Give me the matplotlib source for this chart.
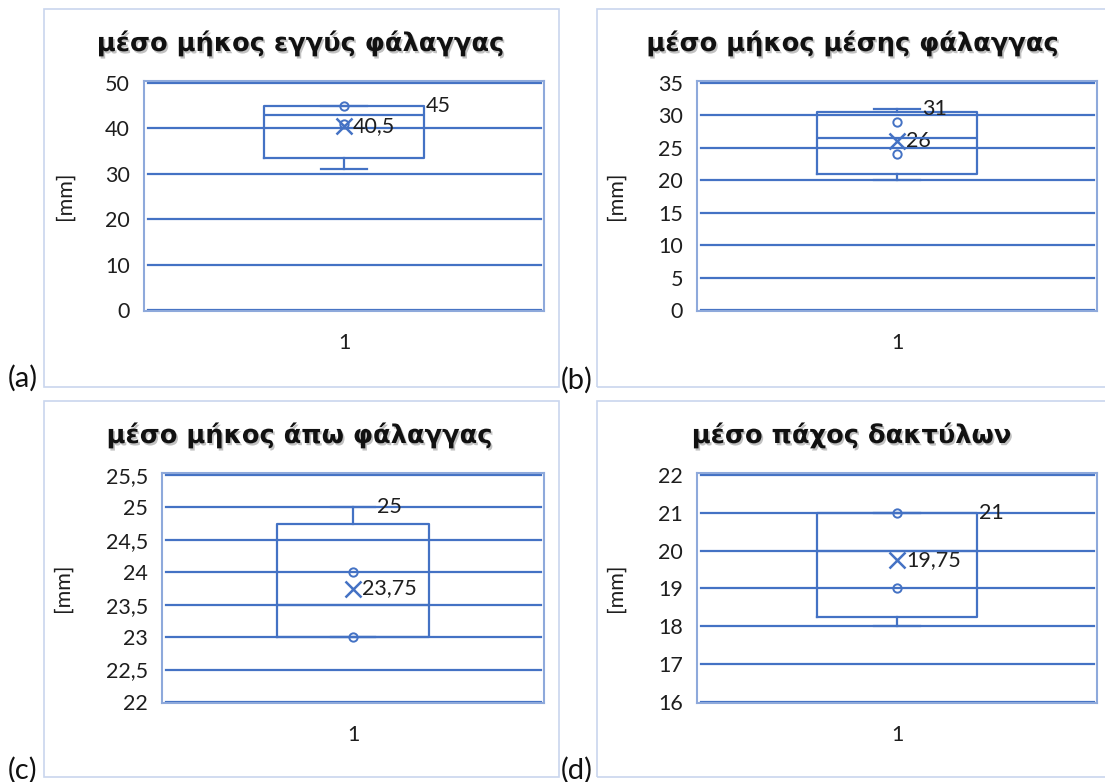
import numpy as np
import matplotlib
matplotlib.use('Agg')
import matplotlib.pyplot as plt
import matplotlib.patheffects as pe
from matplotlib.patches import Rectangle

plt.rcParams['font.family'] = ['Lato', 'DejaVu Sans']

titles = ['μέσο μήκος εγγύς φάλαγγας', 'μέσο μήκος μέσης φάλαγγας',
          'μέσο μήκος άπω φάλαγγας', 'μέσο πάχος δακτύλων']
tags = ['(a)', '(b)', '(c)', '(d)']
category = ['1']

# measurements per panel [mm]
data_a = [31, 41, 45, 45]
data_b = [20, 24, 29, 31]
data_c = [23, 23, 24, 25]
data_d = [18, 19, 21, 21]

ticks_a = [0, 10, 20, 30, 40, 50]
ticks_b = [0, 5, 10, 15, 20, 25, 30, 35]
ticks_c = [22, 22.5, 23, 23.5, 24, 24.5, 25, 25.5]
ticks_d = [16, 17, 18, 19, 20, 21, 22]

BLUE = '#4472C4'
TXT = '#1e1e1e'
FS = 15.5
W, H = 1105, 782


def fmt(v):
    return f'{v:g}'.replace('.', ',')


fig = plt.figure(figsize=(W / 100, H / 100), dpi=100)

# pixel layout: plot box (l, t, r, b), outer box, title xy, tag xy, ylabel x
layout = [
    ((144, 81, 544, 311), (44, 9, 559, 387), (301, 43), (8, 378), 75),
    ((697, 81, 1097, 311), (597, 9, 1112, 387), (853, 43), (561, 380), 626),
    ((162, 473, 544, 703), (44, 401, 559, 777), (300, 435), (8, 770), 73),
    ((697, 473, 1097, 703), (597, 401, 1112, 777), (852, 435), (561, 770), 626),
]
datasets = [data_a, data_b, data_c, data_d]
tick_sets = [ticks_a, ticks_b, ticks_c, ticks_d]

box_w = 0.4
cap_w = 0.115

for i in range(4):
    (l, t, r, b), (ol, ot, orr, ob), (tx, ty), (gx, gy), ylx = layout[i]
    vals = np.array(datasets[i], dtype=float)
    ticks = tick_sets[i]

    fig.add_artist(Rectangle((ol / W, 1 - ob / H), (orr - ol) / W, (ob - ot) / H,
                             transform=fig.transFigure, fill=False,
                             ec='#C9D6EE', lw=1.2))

    ax = fig.add_axes([l / W, 1 - b / H, (r - l) / W, (b - t) / H])
    lo, hi = ticks[0], ticks[-1]
    span = hi - lo
    ax.set_ylim(lo - span * 1 / 227, hi + span * 2 / 227)
    ax.set_xlim(0.5, 1.5)

    for tv in ticks:
        ax.axhline(tv, xmin=0.01, xmax=0.992, color=BLUE, lw=1.6, zorder=1)

    q1, med, q3 = np.percentile(vals, [25, 50, 75], method='weibull')
    iqr = q3 - q1
    whislo = vals[vals >= q1 - 1.5 * iqr].min()
    whishi = vals[vals <= q3 + 1.5 * iqr].max()
    mean = vals.mean()
    stats = dict(med=med, q1=q1, q3=q3, whislo=whislo, whishi=whishi,
                 mean=mean, fliers=[])
    lp = dict(color=BLUE, lw=1.6)
    ax.bxp([stats], positions=[1], widths=box_w, capwidths=cap_w,
           showfliers=False, boxprops=lp, whiskerprops=lp, capprops=lp,
           medianprops=lp, zorder=3)

    inner = np.sort(vals)[1:-1]
    ax.plot(np.ones(len(inner)), inner, 'o', mfc='none', mec=BLUE, ms=6,
            mew=1.4, zorder=4)
    ax.plot(1, mean, 'x', color=BLUE, ms=12, mew=1.8, zorder=4)

    ax.annotate(fmt(mean), (1, mean), xytext=(6.5, 0), textcoords='offset points',
                ha='left', va='center', fontsize=FS, color=TXT)
    lab_x = 1 + (cap_w / 2 if whishi > q3 else box_w / 2)
    ax.annotate(fmt(whishi), (lab_x, whishi), xytext=(1.5, 0),
                textcoords='offset points', ha='left', va='center',
                fontsize=FS, color=TXT)

    ax.set_yticks(ticks)
    ax.set_yticklabels([fmt(v) for v in ticks])
    ax.set_xticks([1])
    ax.set_xticklabels(category)
    ax.tick_params(axis='both', length=0, labelsize=FS, colors=TXT)
    ax.tick_params(axis='y', pad=10)
    ax.tick_params(axis='x', pad=16)
    for s in ax.spines.values():
        s.set_color('#8EA9DB')
        s.set_linewidth(1.5)

    ax.set_ylabel('[mm]', fontsize=FS, color=TXT)
    ax.yaxis.set_label_coords((ylx - l) / (r - l), 0.5)

    fig.text(tx / W, 1 - ty / H, titles[i], ha='center', va='center',
             fontsize=18.5, fontweight='bold', family='DejaVu Sans',
             color='#111111',
             path_effects=[pe.withSimplePatchShadow(offset=(1.2, -1.6),
                                                    shadow_rgbFace='#777777',
                                                    alpha=0.45)])
    fig.text(gx / W, 1 - gy / H, tags[i], ha='left', va='center',
             fontsize=21, color='#111111')

fig.savefig('out.png', dpi=100)
